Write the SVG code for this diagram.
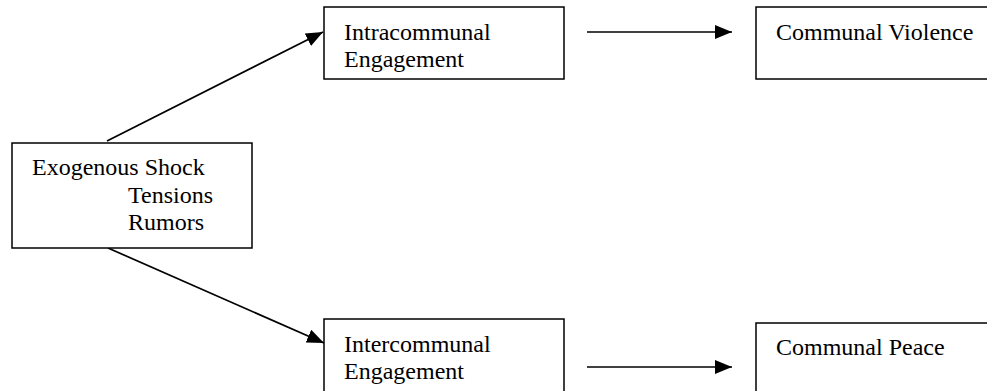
<svg xmlns="http://www.w3.org/2000/svg" width="987" height="391" viewBox="0 0 987 391">
<style>
.box{fill:#fff;stroke:#000;stroke-width:1.5}
.t{font-family:"Liberation Serif","Times New Roman",serif;font-size:24px;fill:#000}
.c{stroke:#000;stroke-width:1.7;fill:none}
</style>
<defs>
<marker id="ahb" viewBox="0 0 10 10" refX="10" refY="5" markerWidth="17" markerHeight="14" markerUnits="userSpaceOnUse" orient="auto" preserveAspectRatio="none">
<path d="M0,0 L10,5 L0,10 z" fill="#000"/>
</marker>
<clipPath id="clipIntra"><rect x="324" y="7" width="240" height="71"/></clipPath>
</defs>
<rect width="987" height="391" fill="#fff"/>
<g id="connectors">
<line class="c" x1="107" y1="141" x2="323" y2="32" marker-end="url(#ahb)"/>
<line class="c" x1="108" y1="248" x2="324" y2="343" marker-end="url(#ahb)"/>
<line class="c" x1="587" y1="32" x2="732" y2="32" marker-end="url(#ahb)"/>
<line class="c" x1="587" y1="367" x2="732" y2="367" marker-end="url(#ahb)"/>
</g>
<g id="exo">
<rect class="box" x="12" y="143" width="240" height="105"/>
<text class="t" x="32" y="175">Exogenous Shock</text>
<text class="t" x="128" y="203">Tensions</text>
<text class="t" x="128" y="230">Rumors</text>
</g>
<g id="intra">
<rect class="box" x="324" y="7" width="240" height="72"/>
<g clip-path="url(#clipIntra)">
<text class="t" x="344" y="40">Intracommunal</text>
<text class="t" x="344" y="67">Engagement</text>
</g>
</g>
<g id="violence">
<rect class="box" x="756" y="7" width="240" height="72"/>
<text class="t" x="776" y="40">Communal Violence</text>
</g>
<g id="inter">
<rect class="box" x="324" y="319" width="240" height="80"/>
<text class="t" x="344" y="352">Intercommunal</text>
<text class="t" x="344" y="379">Engagement</text>
</g>
<g id="peace">
<rect class="box" x="756" y="323" width="240" height="80"/>
<text class="t" x="776" y="355">Communal Peace</text>
</g>
</svg>
